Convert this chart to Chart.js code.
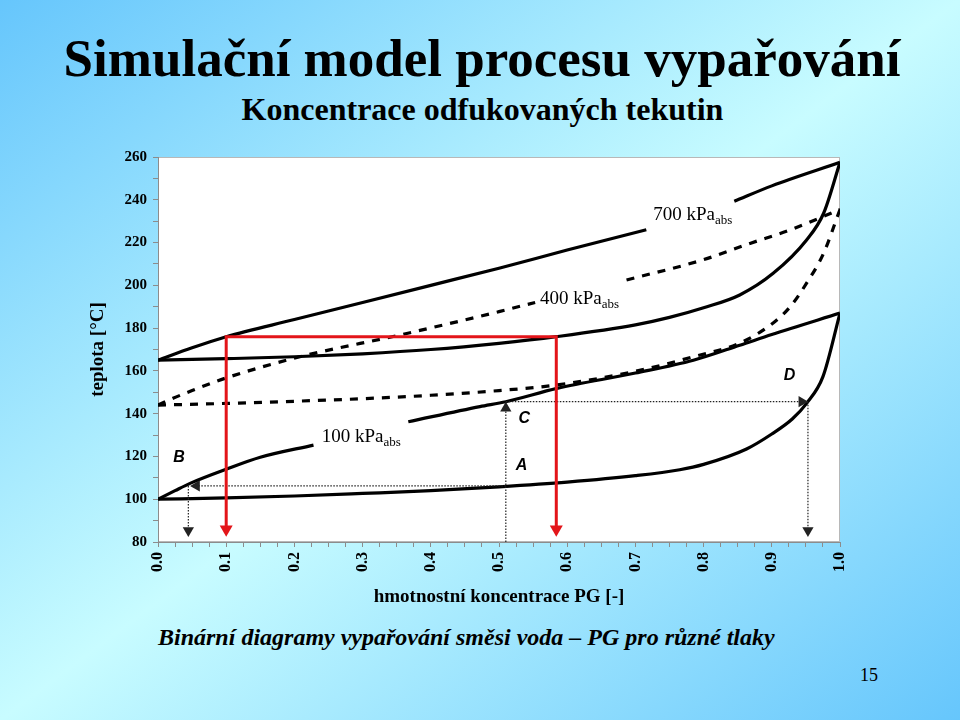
<!DOCTYPE html>
<html><head><meta charset="utf-8">
<script src="https://cdn.jsdelivr.net/npm/chart.js@4"></script>
<style>
html,body{margin:0;padding:0;}
body{width:960px;height:720px;overflow:hidden;position:relative;
background:linear-gradient(to bottom right,#66c6fc 0%,#c8fcff 50%,#66c6fc 100%);
font-family:'Liberation Serif','Times New Roman',serif;}
.t{position:absolute;white-space:nowrap;color:#000;}
#c{position:absolute;left:0;top:0;}
</style></head><body>
<div class="t" style="left:0;width:964px;text-align:center;top:32px;font-size:53px;line-height:53px;font-weight:bold;">Simulační model procesu vypařování</div>
<div class="t" style="left:0;width:965px;text-align:center;top:93px;font-size:32px;line-height:32px;font-weight:bold;">Koncentrace odfukovaných tekutin</div>
<div class="t" style="left:158px;top:625px;font-size:24px;line-height:24px;font-weight:bold;font-style:italic;">Binární diagramy vypařování směsi voda – PG pro různé tlaky</div>
<div class="t" style="left:860px;top:666px;font-size:18px;line-height:18px;">15</div>
<canvas id="c" width="960" height="720"></canvas>
<script>
// ---- data (x = mass fraction PG, y = temperature °C) ----
const liq100X = [0, 0.1, 0.2, 0.3, 0.4, 0.5, 0.6, 0.7, 0.765, 0.8, 0.863, 0.9, 0.93, 0.951, 0.975, 1.0];
const liq100Y = [100, 100.6, 101.5, 102.7, 104, 105.8, 108, 111, 113.8, 116.3, 123.5, 130.5, 137.5, 144.8, 157.3, 187];
const vap100X = [0, 0.025, 0.047, 0.1, 0.15, 0.228, 0.3, 0.367, 0.472, 0.51, 0.585, 0.7, 0.785, 0.853, 0.9, 1.0];
const vap100Y = [100, 104, 107.4, 114, 119.6, 125.3, null, 136.2, 143.3, 145.6, 151.8, 159, 165, 172, 177, 187];

const liq400X = [0, 0.1, 0.2, 0.3, 0.4, 0.5, 0.584, 0.7, 0.785, 0.853, 0.902, 0.927, 0.951, 0.976, 1.0];
const liq400Y = [144, 144.8, 145.8, 147, 148.6, 150.8, 153.4, 159.8, 166.6, 173, 182.4, 190, 201, 215, 235.5];
const vap400X = [0, 0.022, 0.05, 0.098, 0.208, 0.355, 0.5, 0.553, 0.62, 0.687, 0.8, 0.868, 0.927, 1.0];
const vap400Y = [144, 147.2, 150.8, 156.5, 166.6, 176.8, 187.7, 192, null, 202.5, 212, 219.6, 225.9, 235.5];

const liq700X = [0, 0.1, 0.2, 0.3, 0.4, 0.5, 0.584, 0.7, 0.75, 0.8, 0.853, 0.902, 0.951, 0.976, 1.0];
const liq700Y = [165, 165.7, 166.6, 168, 170, 172.9, 176, 181.5, 185, 189.5, 195.5, 205.6, 221.2, 233.7, 257.5];
const vap700X = [0, 0.05, 0.1, 0.2, 0.3, 0.4, 0.5, 0.6, 0.716, 0.78, 0.845, 0.9, 1.0];
const vap700Y = [165, 170.8, 176, 184, 192, 200, 208, 216.5, 226, null, 239.3, 246.5, 257.5];

// red construction lines
const redX = [0.1, 0.1, 0.584, 0.584];
const redY = [86, 176, 176, 86];
// dotted construction lines (A -> B, B down, A up to C, C -> D, D down)
const dotABX = [0.51, 0.0565];   const dotABY = [106.2, 106.2];
const dotBX  = [0.0445, 0.0445]; const dotBY  = [106.2, 85.4];
const dotACX = [0.51, 0.51];     const dotACY = [80, 142.5];
const dotCDX = [0.51, 0.944];    const dotCDY = [145.6, 145.6];
const dotDX  = [0.953, 0.953];   const dotDY  = [145.6, 85.4];

// tick labels
const xTickLabels = ['0.0','0.1','0.2','0.3','0.4','0.5','0.6','0.7','0.8','0.9','1.0'];
const yTickLabels = ['80','100','120','140','160','180','200','220','240','260'];

// text annotations
const pointLabels = [
  {text:'B', x:0.031, y:119.4},
  {text:'C', x:0.537, y:137.8},
  {text:'A', x:0.533, y:115.5},
  {text:'D', x:0.926, y:157.6}
];
const pressureLabels = [
  {text:'100 kPa', sub:'abs', x:0.240, y:126.9},
  {text:'400 kPa', sub:'abs', x:0.560, y:191.3},
  {text:'700 kPa', sub:'abs', x:0.726, y:230.5}
];

function pts(xs, ys){ return xs.map((x,i)=>({x:x, y:ys[i]})); }

const curve = (xs, ys, dashed) => ({
  data: pts(xs, ys), borderColor:'#000', borderWidth:3.2, pointRadius:0,
  cubicInterpolationMode:'monotone', fill:false, spanGaps:false,
  borderDash: dashed ? [8,8] : []
});
const arrowLine = (xs, ys, rotEnd, color, width, dash, r) => ({
  data: pts(xs, ys), borderColor:color, borderWidth:width, borderDash:dash,
  tension:0, fill:false,
  pointRadius:[0, r], pointStyle:'triangle', pointRotation:[0, rotEnd],
  pointBackgroundColor:color, pointBorderWidth:0
});

const RED = '#e3151a';
const datasets = [
  {data: pts(redX, redY), borderColor:RED, borderWidth:3, tension:0, fill:false,
   pointRadius:[7.5,0,0,7.5], pointStyle:'triangle', pointRotation:[180,0,0,180],
   pointBackgroundColor:RED, pointBorderWidth:0},
  arrowLine(dotABX, dotABY, 270, '#222', 1.2, [1.5,1.5], 6.5),
  arrowLine(dotBX, dotBY, 180, '#222', 1.2, [1.5,1.5], 6.5),
  arrowLine(dotACX, dotACY, 0, '#222', 1.2, [1.5,1.5], 6.5),
  arrowLine(dotCDX, dotCDY, 90, '#222', 1.2, [1.5,1.5], 6.5),
  arrowLine(dotDX, dotDY, 180, '#222', 1.2, [1.5,1.5], 6.5),
  curve(liq100X, liq100Y, false),
  curve(vap100X, vap100Y, false),
  curve(liq400X, liq400Y, true),
  curve(vap400X, vap400Y, true),
  curve(liq700X, liq700Y, false),
  curve(vap700X, vap700Y, false)
];

const plotBg = {
  id:'plotBg',
  beforeDraw(chart){
    const {ctx, chartArea:a} = chart;
    ctx.save();
    ctx.fillStyle = '#fff';
    ctx.fillRect(a.left, a.top, a.right-a.left, a.bottom-a.top);
    ctx.strokeStyle = '#b8b8b8'; ctx.lineWidth = 1;
    ctx.strokeRect(a.left+0.5, a.top+0.5, a.right-a.left-1, a.bottom-a.top-1);
    ctx.restore();
  }
};
const textLabels = {
  id:'textLabels',
  afterDatasetsDraw(chart){
    const {ctx, scales:{x, y}} = chart;
    ctx.save();
    ctx.fillStyle = '#000';
    ctx.textBaseline = 'middle'; ctx.textAlign = 'center';
    ctx.font = "bold italic 16px 'Liberation Sans', Arial, sans-serif";
    pointLabels.forEach(l => ctx.fillText(l.text, x.getPixelForValue(l.x), y.getPixelForValue(l.y)));
    ctx.textBaseline = 'alphabetic'; ctx.textAlign = 'left';
    pressureLabels.forEach(l => {
      const px = x.getPixelForValue(l.x), py = y.getPixelForValue(l.y);
      ctx.font = "19px 'Liberation Serif', 'Times New Roman', serif";
      ctx.fillText(l.text, px, py);
      const w = ctx.measureText(l.text).width;
      ctx.font = "13px 'Liberation Serif', 'Times New Roman', serif";
      ctx.fillText(l.sub, px + w, py + 4);
    });
    ctx.restore();
  }
};

new Chart(document.getElementById('c'), {
  type:'line',
  data:{datasets},
  plugins:[plotBg, textLabels],
  options:{
    responsive:false, animation:false, events:[],
    layout:{padding:{left:87, top:157, right:120, bottom:112}},
    plugins:{legend:{display:false}, tooltip:{enabled:false}, title:{display:false}},
    scales:{
      x:{
        type:'linear', min:0, max:1,
        afterFit(s){ s.height = 66; },
        ticks:{
          stepSize:0.025, autoSkip:false, minRotation:90, maxRotation:90, padding:5,
          color:'#000', font:{family:"'Liberation Serif', 'Times New Roman', serif", size:16, weight:'bold'},
          callback(v){ const r = Math.round(v*40); return r % 4 === 0 ? xTickLabels[r/4] : ''; }
        },
        grid:{display:true, drawOnChartArea:false, drawTicks:true, tickLength:5, color:'#8c8c8c'},
        border:{display:true, color:'#8c8c8c', width:1},
        title:{display:true, text:'hmotnostní koncentrace PG [-]', color:'#000', padding:0,
          font:{family:"'Liberation Serif', 'Times New Roman', serif", size:19, weight:'bold'}}
      },
      y:{
        type:'linear', min:80, max:260,
        afterFit(s){ s.width = 71; },
        ticks:{
          stepSize:10, autoSkip:false, padding:6,
          color:'#000', font:{family:"'Liberation Serif', 'Times New Roman', serif", size:15, weight:'bold'},
          callback(v){ const r = Math.round(v); return (r - 80) % 20 === 0 ? yTickLabels[(r-80)/20] : ''; }
        },
        grid:{display:true, drawOnChartArea:false, drawTicks:true, tickLength:5, color:'#8c8c8c'},
        border:{display:true, color:'#8c8c8c', width:1},
        title:{display:true, text:'teplota [°C]', color:'#000', padding:0,
          font:{family:"'Liberation Serif', 'Times New Roman', serif", size:19, weight:'bold'}}
      }
    }
  }
});
</script>
</body></html>
